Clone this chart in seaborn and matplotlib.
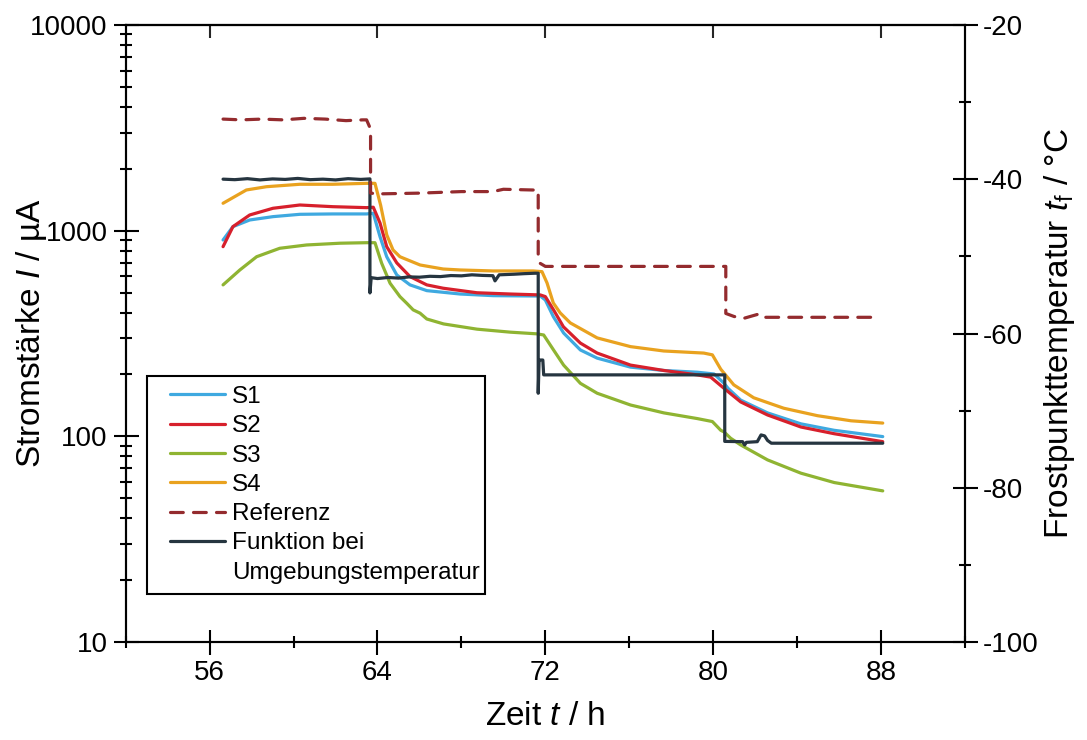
import matplotlib
matplotlib.use("Agg")
import matplotlib.pyplot as plt
import matplotlib.ticker as mticker
from matplotlib.lines import Line2D
from matplotlib.patches import Rectangle
import seaborn as sns
import pandas as pd

# Zeit in h, Stromstärke in µA
t_s1 = [56.64, 57.11, 57.91, 59.02, 60.30, 61.87, 63.48, 63.80, 64.12, 64.44, 64.92, 65.55, 66.35,
        67.94, 69.52, 71.76, 72.00, 72.38, 72.87, 73.67, 74.47, 76.06, 77.65, 79.24, 80.04, 80.52,
        80.71, 81.31, 82.59, 84.18, 85.76, 88.08]
i_s1 = [901, 1046, 1127, 1170, 1201, 1206, 1206, 1215, 935, 747, 609, 545, 511,
        492, 483, 481, 460, 382, 318, 263, 240, 217, 209, 205, 201, 181,
        171, 150, 130, 115, 107, 99.7]

t_s2 = [56.64, 57.11, 57.91, 59.02, 60.30, 61.87, 63.48, 63.80, 64.12, 64.44, 64.92, 65.55, 66.35,
        67.13, 68.74, 70.33, 71.76, 72.00, 72.39, 72.86, 73.67, 74.47, 76.06, 77.65, 79.24, 79.88,
        80.52, 81.31, 82.59, 84.18, 85.76, 88.08]
i_s2 = [836, 1046, 1192, 1285, 1333, 1308, 1294, 1300, 1090, 836, 697, 598, 545,
        525, 499, 492, 487, 478, 412, 341, 284, 254, 222, 209, 199, 194,
        171, 147, 127, 111, 103, 94.2]

t_s3 = [56.64, 57.44, 58.24, 59.34, 60.62, 62.22, 63.48, 63.88, 64.20, 64.60, 65.07, 65.39, 65.70,
        66.03, 66.35, 67.15, 68.74, 70.33, 71.60, 71.92, 72.39, 72.87, 73.67, 74.47, 76.06, 77.65,
        79.24, 79.96, 80.36, 80.52, 80.83, 81.31, 82.59, 84.18, 85.77, 88.08]
i_s3 = [545, 644, 747, 821, 852, 869, 874, 874, 694, 555, 478, 444, 412,
        397, 372, 352, 332, 321, 315, 311, 263, 222, 181, 162, 142, 130,
        122, 118, 107, 105, 97.9, 90.8, 76.8, 66.2, 59.6, 54.3]

t_s4 = [56.64, 57.75, 58.71, 60.30, 61.87, 63.48, 63.88, 64.15, 64.44, 64.74, 65.07, 65.22, 66.03,
        67.13, 67.94, 69.52, 71.42, 71.84, 72.08, 72.38, 72.71, 73.19, 74.47, 76.06, 77.64, 79.55,
        79.96, 80.36, 80.98, 81.93, 83.36, 84.97, 86.57, 88.08]
i_s4 = [1359, 1577, 1636, 1681, 1681, 1699, 1699, 1330, 955, 806, 747, 736, 681,
        651, 644, 637, 637, 632, 557, 445, 398, 356, 301, 273, 260, 254,
        249, 212, 178, 154, 137, 126, 119, 116]

t_fkt = [56.64, 57.2, 57.8, 58.4, 59.0, 59.6, 60.2, 60.8, 61.4, 62.0, 62.6, 63.2, 63.64,
         63.64, 63.70, 64.0, 64.5, 65.0, 65.5, 66.0, 66.5, 67.0, 67.5, 68.0, 68.5, 69.0, 69.5,
         69.6, 69.8, 70.5, 71.0, 71.5, 71.66,
         71.66, 71.70, 71.76, 71.88, 71.92, 80.55,
         80.55, 81.40, 81.50, 81.58, 82.10, 82.28, 82.45, 82.59, 82.77, 88.08]
i_fkt = [1780, 1770, 1790, 1765, 1785, 1775, 1795, 1770, 1780, 1765, 1790, 1775, 1785,
         498, 591, 585, 592, 588, 596, 594, 600, 598, 605, 603, 610, 606, 604,
         570, 610, 614, 618, 621, 621,
         162, 231, 235, 235, 199, 199,
         94.5, 94.2, 90.8, 93.5, 94.2, 101.6, 100.5, 95.5, 92.6, 92.6]

# Frostpunkttemperatur der Referenz in °C
t_ref = [56.64, 57.5, 58.5, 59.5, 60.5, 61.5, 62.5, 63.3, 63.48, 63.67, 63.67, 64.0, 66.0, 68.0,
         69.5, 70.0, 71.5, 71.66, 71.66, 71.75, 72.0, 80.6, 80.6, 81.0, 81.5, 82.27, 82.5, 87.9]
tf_ref = [-32.2, -32.3, -32.2, -32.3, -32.1, -32.2, -32.4, -32.3, -32.3, -33.5, -41.8, -41.9, -41.8,
          -41.6, -41.6, -41.3, -41.4, -41.4, -50.6, -50.9, -51.3, -51.3, -57.4, -57.8, -58.0, -57.4,
          -57.9, -57.9]

sensoren = [("S1", t_s1, i_s1, "#3fa9e0"),
            ("S2", t_s2, i_s2, "#d7202c"),
            ("S3", t_s3, i_s3, "#8fb432"),
            ("S4", t_s4, i_s4, "#e9a21f")]

sns.set_theme(style="white")
plt.rcParams["font.family"] = ["Liberation Sans", "DejaVu Sans"]
plt.rcParams["mathtext.fontset"] = "custom"
plt.rcParams["mathtext.rm"] = "Liberation Sans"
plt.rcParams["mathtext.it"] = "Liberation Sans:italic"
plt.rcParams["axes.edgecolor"] = "black"
plt.rcParams["axes.linewidth"] = 1.5
plt.rcParams["axes.unicode_minus"] = False
plt.rcParams["text.color"] = "black"
plt.rcParams["axes.labelcolor"] = "black"

fig = plt.figure(figsize=(10.87, 7.40), dpi=100)
ax = fig.add_axes([125.7 / 1087, 1 - 642 / 740, (965 - 125.7) / 1087, (642 - 25) / 740])

for name, t, i, c in sensoren:
    df = pd.DataFrame({"t": t, "I": i})
    sns.lineplot(data=df, x="t", y="I", ax=ax, color=c, lw=2.3, sort=False, estimator=None, label=name)

df_fkt = pd.DataFrame({"t": t_fkt, "I": i_fkt})
sns.lineplot(data=df_fkt, x="t", y="I", ax=ax, color="#263540", lw=2.3, sort=False, estimator=None,
             label="Funktion bei")

ax.set_yscale("log")
ax.set_ylim(10, 10000)
ax.set_xlim(52, 92)
ax.set_yticks([10, 100, 1000, 10000], labels=["10", "100", "1000", "10000"])
ax.yaxis.set_minor_locator(mticker.LogLocator(base=10, subs=range(2, 10), numticks=20))
ax.yaxis.set_minor_formatter(mticker.NullFormatter())
ax.set_xticks([56, 64, 72, 80, 88])
ax.xaxis.set_minor_locator(mticker.MultipleLocator(4))
ax.tick_params(axis="both", which="major", direction="inout", length=18, width=1.5,
               labelsize=20, pad=4, colors="black")
ax.tick_params(axis="both", which="minor", direction="inout", length=8, width=1.5, colors="black")
ax.tick_params(axis="y", which="both", left=True, right=False)
ax.tick_params(axis="x", which="both", bottom=True, top=False)
ax.set_xlabel(r"Zeit $\mathit{t}$ / h", fontsize=24, labelpad=11)
ax.set_ylabel(r"Stromstärke $\mathit{I}$ / µA", fontsize=24)
ax.yaxis.set_label_coords(-0.091, 0.5)

top = ax.secondary_xaxis("top")
top.set_xticks([56, 64, 72, 80, 88])
top.tick_params(direction="in", length=9, width=1.5, labeltop=False)

ax2 = ax.twinx()
df_ref = pd.DataFrame({"t": t_ref, "tf": tf_ref})
sns.lineplot(data=df_ref, x="t", y="tf", ax=ax2, color="#942b2e", lw=2.3, sort=False, estimator=None,
             label="Referenz", linestyle=(0, (4, 3.2)), dash_capstyle="round")
ax2.set_ylim(-100, -20)
ax2.set_yticks([-100, -80, -60, -40, -20])
ax2.yaxis.set_minor_locator(mticker.MultipleLocator(10))
ax2.tick_params(axis="y", which="major", direction="inout", length=18, width=1.5,
                labelsize=20, pad=4, colors="black")
ax2.tick_params(axis="y", which="minor", direction="inout", length=8, width=1.5, colors="black")
ax2.set_ylabel(r"Frostpunkttemperatur $\mathit{t}_\mathrm{f}$ / °C", fontsize=24)
ax2.yaxis.set_label_coords(1.092, 0.5)
ax2.set_xlim(52, 92)
ax2.set_xlabel("")

h1, l1 = ax.get_legend_handles_labels()
h2, l2 = ax2.get_legend_handles_labels()
for a in (ax, ax2):
    if a.get_legend() is not None:
        a.get_legend().remove()
handles = h1[:4] + h2 + [h1[4], Line2D([], [], color="none")]
labels = l1[:4] + l2 + [l1[4], "Umgebungstemperatur"]

box = Rectangle((0.0254, 0.0778), 0.4027, 0.3533, transform=ax2.transAxes, facecolor="white",
                edgecolor="black", lw=1.5, zorder=4)
ax2.add_patch(box)
leg = ax2.legend(handles, labels, loc="upper left", bbox_to_anchor=(0.0528, 0.415), borderaxespad=0,
                 fontsize=17.5, frameon=False, handlelength=2.26, handletextpad=0.29,
                 labelspacing=0.3, borderpad=0)
leg.set_zorder(5)

fig.savefig("out.png", dpi=100)
